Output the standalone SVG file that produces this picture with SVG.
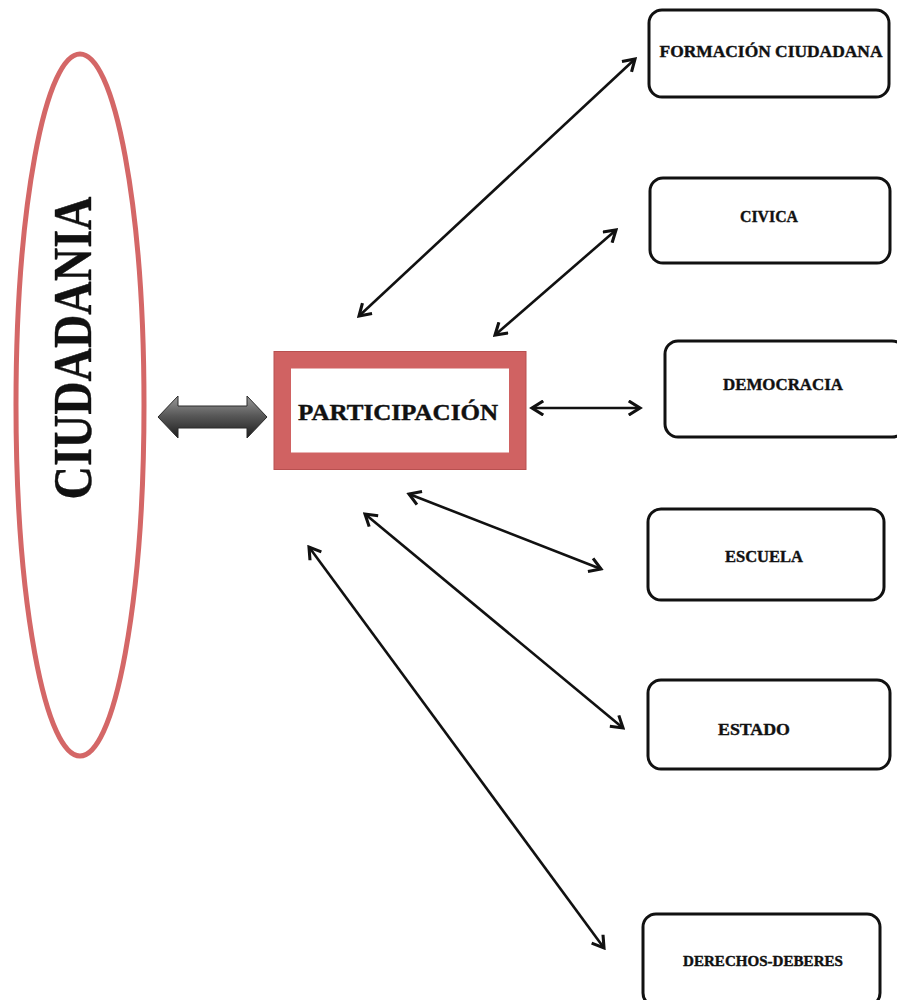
<svg xmlns="http://www.w3.org/2000/svg" width="897" height="1000" viewBox="0 0 897 1000">
<style>
.lbl{font-family:"Liberation Serif","DejaVu Serif",serif;font-weight:bold;fill:#111;stroke:#111;stroke-width:0.4;text-anchor:middle}
.box{fill:#fff;stroke:#111;stroke-width:3}
.con{stroke:#111;stroke-width:2.6;fill:none;marker-start:url(#ah);marker-end:url(#ah)}
</style>
<defs>
<marker id="ah" viewBox="0 0 12 12" refX="10" refY="6" markerWidth="6.5" markerHeight="6.5" orient="auto-start-reverse" markerUnits="strokeWidth">
<path d="M2,1 L10,6 L2,11" fill="none" stroke="#111" stroke-width="2.2" stroke-linejoin="miter"/>
</marker>
<linearGradient id="gg" x1="0" y1="0" x2="0" y2="1">
<stop offset="0" stop-color="#9a9a9a"/>
<stop offset="0.45" stop-color="#5a5a5a"/>
<stop offset="1" stop-color="#1e1e1e"/>
</linearGradient>
</defs>
<rect width="897" height="1000" fill="#fff"/>
<g id="ciudadania">
<ellipse cx="80" cy="405" rx="64" ry="351" fill="none" stroke="#d46767" stroke-width="5"/>
<text class="lbl" transform="translate(91,348) rotate(-90)" font-size="54" stroke-width="2" textLength="303" lengthAdjust="spacingAndGlyphs">CIUDADANIA</text>
</g>
<g id="participacion">
<rect x="282.5" y="360" width="235" height="101" fill="#fff" stroke="#d06262" stroke-width="17"/>
<rect x="274" y="351.5" width="252" height="118" fill="none" stroke="#b85050" stroke-width="1"/>
<text class="lbl" x="398" y="420" font-size="24" stroke-width="0.6" textLength="200" lengthAdjust="spacingAndGlyphs">PARTICIPACIÓN</text>
</g>
<g id="formacion">
<rect class="box" x="649" y="10" width="240" height="87" rx="13"/>
<text class="lbl" x="771" y="57" font-size="17" textLength="223" lengthAdjust="spacingAndGlyphs">FORMACIÓN CIUDADANA</text>
</g>
<g id="civica">
<rect class="box" x="650" y="178" width="240" height="85" rx="13"/>
<text class="lbl" x="769" y="222" font-size="17" textLength="58" lengthAdjust="spacingAndGlyphs">CIVICA</text>
</g>
<g id="democracia">
<rect class="box" x="665" y="341" width="240" height="96" rx="13"/>
<text class="lbl" x="783" y="390" font-size="17" textLength="120" lengthAdjust="spacingAndGlyphs">DEMOCRACIA</text>
</g>
<g id="escuela">
<rect class="box" x="648" y="509" width="236" height="91" rx="13"/>
<text class="lbl" x="764" y="562" font-size="17" textLength="78" lengthAdjust="spacingAndGlyphs">ESCUELA</text>
</g>
<g id="estado">
<rect class="box" x="648" y="680" width="242" height="89" rx="13"/>
<text class="lbl" x="754" y="735" font-size="17" textLength="72" lengthAdjust="spacingAndGlyphs">ESTADO</text>
</g>
<g id="derechos">
<rect class="box" x="643" y="914" width="237" height="92" rx="13"/>
<text class="lbl" x="763" y="966" font-size="15" textLength="160" lengthAdjust="spacingAndGlyphs">DERECHOS-DEBERES</text>
</g>
<g id="connectors">
<path d="M158,417 L178,396 L178,406 L247,406 L247,396 L267,417 L247,438 L247,428 L178,428 L178,438 Z" fill="url(#gg)" stroke="#2a2a2a" stroke-width="1"/>
<line class="con" x1="359" y1="316" x2="635" y2="59"/>
<line class="con" x1="495" y1="335" x2="616" y2="230"/>
<line class="con" x1="532" y1="408" x2="640" y2="408"/>
<line class="con" x1="409" y1="494" x2="601" y2="569"/>
<line class="con" x1="365" y1="514" x2="623" y2="728"/>
<line class="con" x1="309" y1="547" x2="604" y2="948"/>
</g>
</svg>
